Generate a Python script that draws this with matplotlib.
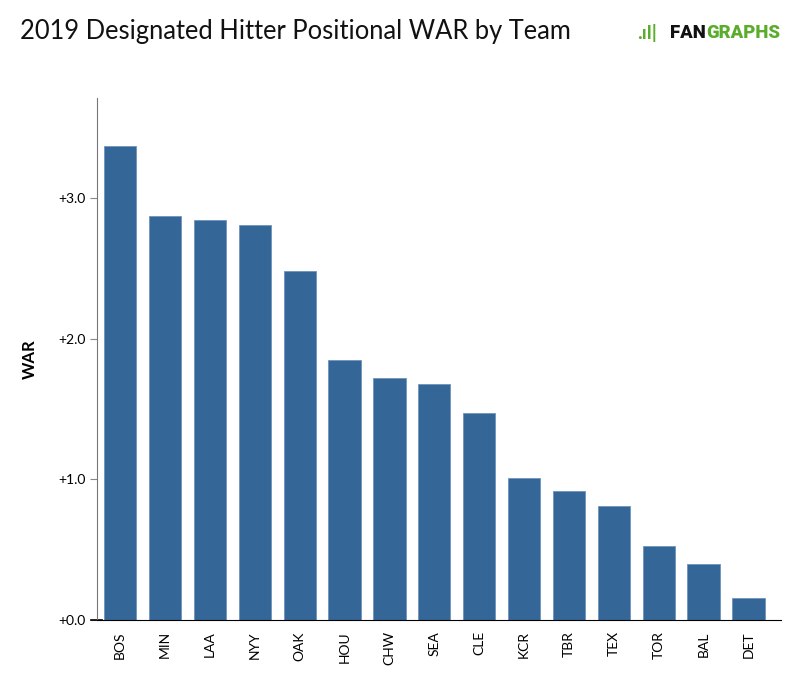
import matplotlib
matplotlib.use("Agg")
import matplotlib.pyplot as plt

teams = ["BOS", "MIN", "LAA", "NYY", "OAK", "HOU", "CHW", "SEA", "CLE", "KCR", "TBR", "TEX", "TOR", "BAL", "DET"]
war = [3.37, 2.87, 2.84, 2.81, 2.48, 1.85, 1.72, 1.68, 1.47, 1.01, 0.92, 0.81, 0.53, 0.40, 0.16]
yticks = [0.0, 1.0, 2.0, 3.0]
ytick_labels = ["+0.0", "+1.0", "+2.0", "+3.0"]

plt.rcParams['font.family'] = ['Lato', 'DejaVu Sans']

fig = plt.figure(figsize=(8, 7), dpi=100)
ax = fig.add_axes([0.121, 0.114, 0.855, 0.746])
x = range(len(teams))
ax.bar(x, war, width=0.72, color="#356698", edgecolor="#6f94bd", linewidth=0.6)
ax.set_xlim(-0.52, 14.72)
ax.set_ylim(0, 3.71)
ax.set_xticks(list(x))
ax.set_xticklabels(teams, rotation=90, fontsize=10)
ax.tick_params(axis='x', length=0, pad=8)
ax.set_yticks(yticks)
ax.set_yticklabels(ytick_labels, fontsize=10)
ax.tick_params(axis='y', length=5, direction='out', color='#888888', pad=3)
ax.plot([-0.52 - 0.12, -0.52 + 0.12], [0, 0], color='black', lw=1.2, clip_on=False)
for s in ['top', 'right']:
    ax.spines[s].set_visible(False)
ax.spines['left'].set_color('#777777')
ax.spines['bottom'].set_color('black')
ax.set_ylabel("WAR", fontsize=12, fontweight='bold', labelpad=15)

fig.text(0.025, 0.955, "2019 Designated Hitter Positional WAR by Team", fontsize=18.4, va='center', ha='left', color='#111111')

# logo
fig.canvas.draw()
r = fig.canvas.get_renderer()
t1 = fig.text(0.838, 0.953, "FAN", fontsize=13.3, fontweight='black', color='#111111', ha='left', va='center',
              family=['Roboto', 'DejaVu Sans'])
bb = t1.get_window_extent(renderer=r)
t2 = fig.text(bb.x1 / fig.bbox.width, 0.953, "GRAPHS", fontsize=13.3, fontweight='black', color='#5aad2c',
              ha='left', va='center', family=['Roboto', 'DejaVu Sans'])
fig.text(0.797, 0.953, ".ıl|", fontsize=14, fontweight='bold', color='#5aad2c', ha='left', va='center')

fig.savefig("out.png", dpi=100)
